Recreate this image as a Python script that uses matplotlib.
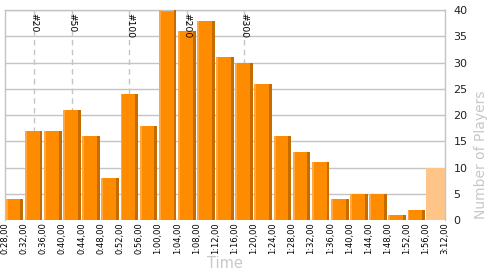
import matplotlib
matplotlib.use("Agg")
import matplotlib.pyplot as plt

tick_labels = ["0:28,00", "0:32,00", "0:36,00", "0:40,00", "0:44,00", "0:48,00",
               "0:52,00", "0:56,00", "1:00,00", "1:04,00", "1:08,00", "1:12,00",
               "1:16,00", "1:20,00", "1:24,00", "1:28,00", "1:32,00", "1:36,00",
               "1:40,00", "1:44,00", "1:48,00", "1:52,00", "1:56,00", "3:12,00"]
counts = [4, 17, 17, 21, 16, 8, 24, 18, 40, 36, 38, 31, 30, 26, 16, 13, 11,
          4, 5, 5, 1, 2]
last_count = 10
marker_labels = ["#20", "#50", "#100", "#200", "#300"]
marker_bins = [1, 3, 6, 9, 12]

fig = plt.figure(figsize=(5, 2.75), dpi=100)
ax = fig.add_axes([0.01, 0.2, 0.88, 0.7636])

grid_c = "#c4c4c4"
n = len(counts)
xs = [i + 0.5 for i in range(n)]
W = 0.92
# dashed marker lines (behind bars)
for lab, b in zip(marker_labels, marker_bins):
    ax.axvline(b + 0.5, color="#c4c4c4", ls=(0, (4, 3)), lw=1, zorder=1)

ax.bar(xs, counts, width=W, color="#ff8c00", zorder=2, linewidth=0)
# left highlight
ax.bar([x - W / 2 for x in xs], counts, width=0.1, align="edge",
       color="#ffa640", zorder=3, linewidth=0)
# right shade
ax.bar([x + W / 2 - 0.15 for x in xs], counts, width=0.15, align="edge",
       color="#c46c00", zorder=3, linewidth=0)
# last (open-ended) bin
ax.bar([n + 0.5], [last_count], width=1.0, color="#ffc488", zorder=2, linewidth=0)

for lab, b in zip(marker_labels, marker_bins):
    ax.text(b + 0.5, 39.4, lab, rotation=270, ha="center", va="top",
            fontsize=6.6, color="black", zorder=5)

ax.set_xlim(0, n + 1)
ax.set_ylim(0, 40)
ax.set_yticks(range(0, 41, 5))
ax.yaxis.tick_right()
ax.tick_params(axis="y", length=0, labelsize=8, pad=6, colors="#222222")
ax.set_xticks(range(0, n + 2))
ax.set_xticklabels(tick_labels, rotation=90, fontsize=6)
ax.tick_params(axis="x", length=0, pad=1.5)
ax.grid(axis="y", color=grid_c, lw=1)
ax.set_axisbelow(True)
for s in ["top", "left", "right"]:
    ax.spines[s].set_color(grid_c)
    ax.spines[s].set_linewidth(1)
ax.spines["bottom"].set_visible(False)

fig.text(0.45, 0.015, "Time", ha="center", va="bottom", fontsize=10.5, color="#c8c8c8")
fig.text(0.962, 0.436, "Number of Players", rotation=90, ha="center", va="center",
         fontsize=10, color="#c8c8c8")

fig.savefig("out.png", dpi=100)
